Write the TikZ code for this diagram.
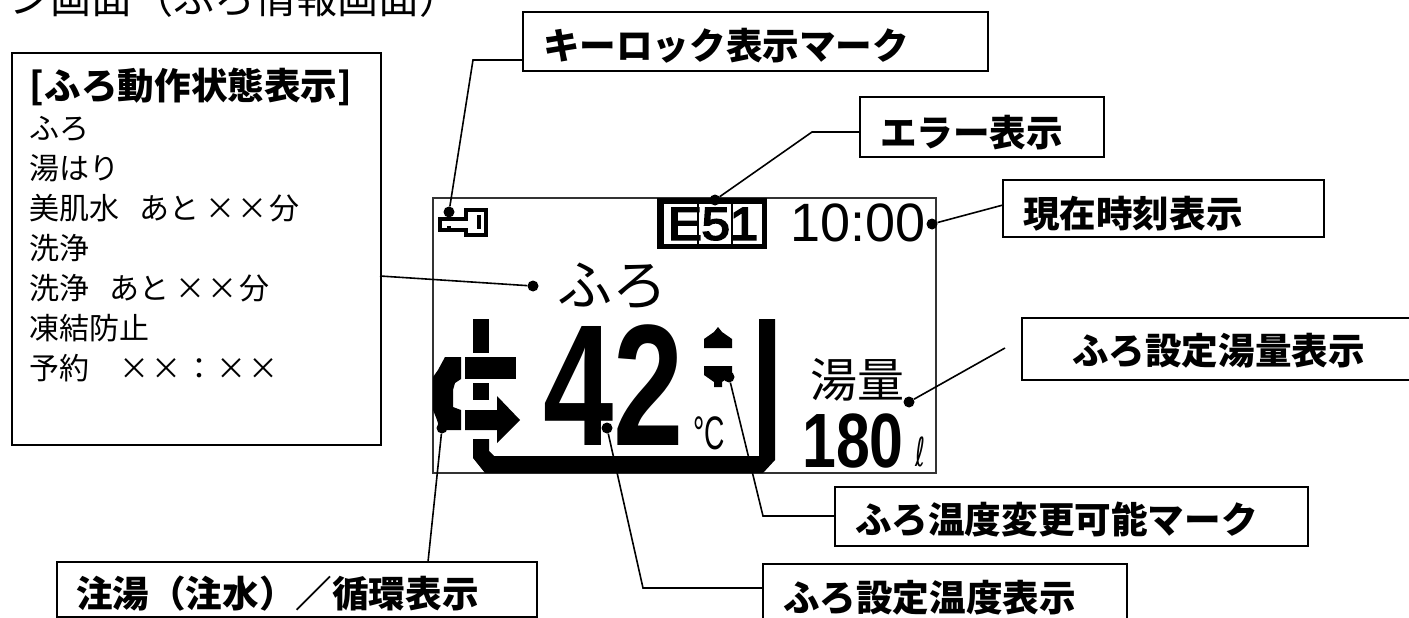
\documentclass[tikz,border=0pt]{standalone}
\usepackage{fontspec}
\usepackage{graphicx}
\setmainfont{Noto Sans CJK JP}
\newfontfamily\lcdfont{Liberation Sans}
\newfontfamily\errfont[FakeBold=4]{Liberation Sans}
\newfontfamily\symfont{DejaVu Sans}
\newcommand{\fsz}[1]{\fontsize{#1}{#1}\selectfont}
\tikzset{
    labelbox/.style={draw, line width=2pt, align=left, inner sep=0pt, text depth=3pt, font=\fsz{36.6}\bfseries},
    leader/.style={draw, line width=1.6pt},
    dotmark/.style={circle, fill, inner sep=0pt, minimum size=11pt},
    lcdtext/.style={inner sep=0pt, outer sep=0pt}
}
\begin{document}
\begin{tikzpicture}[x=1pt, y=-1pt]
    \useasboundingbox (0,0) rectangle (1409,618);

    \node[anchor=base west, inner sep=0pt, font=\fsz{41}] (titletext) at (9,14) {ン画面（ふろ情報画面）};

    % operation state list
    \node[draw, line width=2pt, align=left, inner sep=0pt, anchor=north west, minimum width=369pt, minimum height=392pt, text width=333pt, font=\fontsize{30}{40}\selectfont] (statebox) at (11,52)
        {{\fsz{36.6}\bfseries [ふろ動作状態表示]}\\
         ふろ\\ 湯はり\\ 美肌水\hspace{20pt}あと\hspace{6pt}×\hspace{2pt}×\hspace{2pt}分\\ 洗浄\\ 洗浄\hspace{20pt}あと\hspace{6pt}×\hspace{2pt}×\hspace{2pt}分\\ 凍結防止\\ 予約\hspace{30pt}×\hspace{2pt}×\hspace{3pt}：\hspace{2pt}×\hspace{2pt}×\\[11pt] \mbox{}};

    % label boxes
    \node[labelbox, minimum width=465pt, minimum height=59pt, text width=425pt, text height=40pt] (keybox) at (755.5,41.5) {キーロック表示マーク};
    \node[labelbox, minimum width=244pt, minimum height=59pt, text width=204pt, text height=42pt] (errbox) at (982,127) {エラー表示};
    \node[labelbox, minimum width=321pt, minimum height=57pt, text width=281pt, text height=42pt] (clockbox) at (1163.5,208) {現在時刻表示};
    \node[labelbox, minimum width=398pt, minimum height=62pt, text width=298pt, text height=34pt] (volbox) at (1221,349) {ふろ設定湯量表示};
    \node[labelbox, minimum width=473pt, minimum height=59pt, text width=433pt, text height=37pt] (markbox) at (1071.5,516.5) {ふろ温度変更可能マーク};
    \node[labelbox, minimum width=364pt, minimum height=66pt, text width=324pt, text height=32pt] (tempbox) at (945,597) {ふろ設定温度表示};
    \node[labelbox, minimum width=480pt, minimum height=55pt, text width=442pt, text height=39pt] (flowbox) at (297,589.5) {注湯（注水）／循環表示};

    % display frame
    \node[draw=black!80, line width=2pt, minimum width=503pt, minimum height=275pt, inner sep=0pt] (lcdframe) at (684.5,335.5) {};

    % key mark
    \draw[line width=4pt] (440,219) -- (466,219) -- (466,210) -- (486,210) -- (486,235) -- (466,235) -- (466,230) -- (440,230) -- cycle;
    \fill (477,215) rectangle (481,229);
    \fill (447,226) rectangle (451,230);

    % error code
    \fill (657,198) rectangle (767,249);
    \fill[white] (664,204) rectangle (697,244);
    \fill[white] (699,204) rectangle (731,244);
    \fill[white] (733,204) rectangle (762,244);
    \node[lcdtext, font=\fsz{46}\errfont] (errcode) at (713,224) {\scalebox{1.1}[1]{E51}};
    \node[lcdtext, font=\fsz{54}\lcdfont] (clocktext) at (858,222.5) {10:00};

    \node[lcdtext, font=\fsz{55}] (statetext) at (612,286.5) {ふろ};

    % temperature
    \node[lcdtext, font=\fsz{173}\lcdfont\bfseries] (temptext) at (614,385) {\scalebox{.73}[1]{42}};
    \node[lcdtext, font=\fsz{47}\lcdfont] (unittext) at (709,433) {\scalebox{.6}[1]{°C}};
    \fill (704,348) -- (704,339) -- (714,332) -- (718,327) -- (722,332) -- (732,339) -- (732,348) -- cycle;
    \fill (704,366) -- (732,366) -- (732,375) -- (722,382) -- (722,387) -- (714,387) -- (714,382) -- (704,375) -- cycle;

    % tub
    \fill (473,439) -- (489,439) -- (489,451) -- (494,456) -- (759,456) -- (759,319) -- (775,319) -- (775,460) -- (763,473) -- (485,473) -- (473,458) -- cycle;

    % flow icon
    \fill (473,319) rectangle (489,353);
    \fill (465,357) rectangle (516,379);
    \fill (473,383) rectangle (489,400);
    \fill (465,410) -- (497,410) -- (497,396) -- (520,420) -- (497,443) -- (497,430) -- (465,430) -- cycle;
    \fill (461,357) -- (461,379) -- (455,383) -- (453,390) -- (453,407) -- (461,410) -- (461,430) -- (440,430) -- (437,420) -- (433,410) -- (433,377) -- (438,370) -- (445,357) -- cycle;

    % volume
    \node[lcdtext, font=\fsz{47}] (voltitle) at (857.5,380) {湯量};
    \node[lcdtext, font=\fsz{77}\lcdfont\bfseries] (voltext) at (853,440.5) {\scalebox{.79}[1]{180}};
    \node[lcdtext, font=\fsz{40}\symfont] (litre) at (920,451.5) {\scalebox{.6}[1]{ℓ}};

    % leader dots
    \node[dotmark] (keydot) at (449,212) {};
    \node[dotmark] (errdot) at (715,200) {};
    \node[dotmark] (clockdot) at (932,224) {};
    \node[dotmark] (voldot) at (909,402) {};
    \node[dotmark] (statedot) at (533,286) {};
    \node[dotmark] (markdot) at (729,377) {};
    \node[dotmark] (tempdot) at (607,428) {};
    \node[dotmark] (flowdot) at (442,428) {};

    \coordinate (keybend) at (473,60);
    \coordinate (errbend) at (812,132);
    \coordinate (clockend) at (1003,205);
    \coordinate (volend) at (1005,348);
    \coordinate (stateend) at (380,276);
    \coordinate (markbend) at (763,516);
    \coordinate (tempbend) at (643,588);
    \coordinate (flowend) at (428,562);

    \draw[leader] (keydot) -- (keybend) -- (keybend -| keybox.west);
    \draw[leader] (errdot) -- (errbend) -- (errbend -| errbox.west);
    \draw[leader] (clockdot) -- (clockend);
    \draw[leader] (voldot) -- (volend);
    \draw[leader] (statedot) -- (stateend);
    \draw[leader] (markdot) -- (markbend) -- (markbend -| markbox.west);
    \draw[leader] (tempdot) -- (tempbend) -- (tempbend -| tempbox.west);
    \draw[leader] (flowdot) -- (flowend);
\end{tikzpicture}
\end{document}
